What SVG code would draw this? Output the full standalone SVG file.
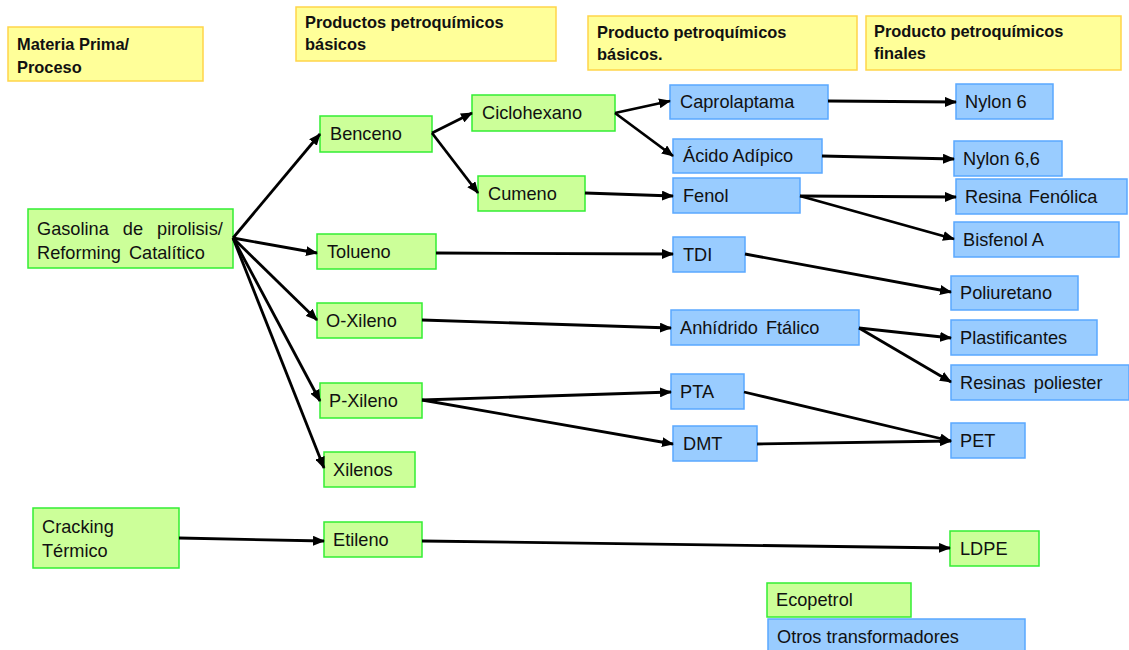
<svg xmlns="http://www.w3.org/2000/svg" width="1129" height="650" viewBox="0 0 1129 650">
<style>
.y{fill:#ffff99;stroke:#ffd54a;stroke-width:1.5}
.g{fill:#ccff99;stroke:#33ee33;stroke-width:1.5}
.b{fill:#99ccff;stroke:#5aa8ff;stroke-width:1.5}
.h{font-family:"Liberation Sans",Arial,sans-serif;font-weight:bold;font-size:16.4px;fill:#111}
.t{font-family:"Liberation Sans",Arial,sans-serif;font-size:18.2px;fill:#111}
.c line{stroke:#000;stroke-width:2.8;marker-end:url(#ah)}
</style>
<defs>
<marker id="ah" markerUnits="userSpaceOnUse" markerWidth="12" markerHeight="10" refX="11" refY="5" orient="auto">
<path d="M0,0 L12,5 L0,10 z" fill="#000"/>
</marker>
</defs>
<rect width="1129" height="650" fill="#fff"/>

<g id="h1"><rect class="y" x="8" y="27" width="195" height="54"/><text class="h" x="17" y="50">Materia Prima/</text><text class="h" x="17" y="73">Proceso</text></g>
<g id="h2"><rect class="y" x="296" y="7" width="260" height="54"/><text class="h" x="305" y="28">Productos petroquímicos</text><text class="h" x="305" y="50">básicos</text></g>
<g id="h3"><rect class="y" x="588" y="16" width="269" height="54"/><text class="h" x="597" y="38">Producto petroquímicos</text><text class="h" x="597" y="60">básicos.</text></g>
<g id="h4"><rect class="y" x="866" y="16" width="255" height="54"/><text class="h" x="874" y="37">Producto petroquímicos</text><text class="h" x="874" y="59">finales</text></g>

<g id="gasolina"><rect class="g" x="28" y="209" width="205" height="59"/><text class="t" x="37" y="235" word-spacing="9">Gasolina de pirolisis/</text><text class="t" x="37" y="259" word-spacing="3">Reforming Catalítico</text></g>
<g id="cracking"><rect class="g" x="33" y="508" width="146" height="60"/><text class="t" x="42" y="533">Cracking</text><text class="t" x="42" y="557">Térmico</text></g>

<g id="benceno"><rect class="g" x="320" y="116" width="112" height="36"/><text class="t" x="330" y="140">Benceno</text></g>
<g id="tolueno"><rect class="g" x="317" y="234" width="119" height="35"/><text class="t" x="327" y="258">Tolueno</text></g>
<g id="oxileno"><rect class="g" x="317" y="303" width="105" height="35"/><text class="t" x="326" y="327">O-Xileno</text></g>
<g id="pxileno"><rect class="g" x="320" y="383" width="102" height="35"/><text class="t" x="329" y="407">P-Xileno</text></g>
<g id="xilenos"><rect class="g" x="324" y="452" width="91" height="35"/><text class="t" x="333" y="476">Xilenos</text></g>
<g id="etileno"><rect class="g" x="324" y="522" width="98" height="35"/><text class="t" x="333" y="546">Etileno</text></g>

<g id="ciclohexano"><rect class="g" x="472" y="95" width="143" height="36"/><text class="t" x="482" y="119">Ciclohexano</text></g>
<g id="cumeno"><rect class="g" x="478" y="176" width="107" height="35"/><text class="t" x="488" y="200">Cumeno</text></g>

<g id="caprolaptama"><rect class="b" x="670" y="85" width="158" height="34"/><text class="t" x="680" y="108">Caprolaptama</text></g>
<g id="adipico"><rect class="b" x="673" y="139" width="149" height="34"/><text class="t" x="683" y="162">Ácido Adípico</text></g>
<g id="fenol"><rect class="b" x="673" y="178" width="127" height="35"/><text class="t" x="683" y="202">Fenol</text></g>
<g id="tdi"><rect class="b" x="673" y="237" width="72" height="35"/><text class="t" x="683" y="261">TDI</text></g>
<g id="anhidrido"><rect class="b" x="671" y="310" width="188" height="35"/><text class="t" x="680" y="334" word-spacing="3">Anhídrido Ftálico</text></g>
<g id="pta"><rect class="b" x="671" y="374" width="73" height="35"/><text class="t" x="680" y="398">PTA</text></g>
<g id="dmt"><rect class="b" x="673" y="426" width="84" height="35"/><text class="t" x="683" y="450">DMT</text></g>

<g id="nylon6"><rect class="b" x="956" y="84" width="97" height="35"/><text class="t" x="965" y="108">Nylon 6</text></g>
<g id="nylon66"><rect class="b" x="954" y="141" width="108" height="35"/><text class="t" x="963" y="165">Nylon 6,6</text></g>
<g id="resinafenolica"><rect class="b" x="956" y="179" width="171" height="35"/><text class="t" x="965" y="203" word-spacing="2">Resina Fenólica</text></g>
<g id="bisfenol"><rect class="b" x="954" y="222" width="165" height="35"/><text class="t" x="963" y="246">Bisfenol A</text></g>
<g id="poliuretano"><rect class="b" x="951" y="276" width="127" height="34"/><text class="t" x="960" y="299">Poliuretano</text></g>
<g id="plastificantes"><rect class="b" x="951" y="320" width="146" height="35"/><text class="t" x="960" y="344">Plastificantes</text></g>
<g id="resinaspoliester"><rect class="b" x="951" y="365" width="178" height="35"/><text class="t" x="960" y="389" word-spacing="3">Resinas poliester</text></g>
<g id="pet"><rect class="b" x="951" y="423" width="74" height="35"/><text class="t" x="960" y="447">PET</text></g>
<g id="ldpe"><rect class="g" x="950" y="531" width="89" height="35"/><text class="t" x="960" y="555">LDPE</text></g>

<g id="ecopetrol"><rect class="g" x="767" y="583" width="144" height="34"/><text class="t" x="776" y="606">Ecopetrol</text></g>
<g id="otros"><rect class="b" x="768" y="619" width="257" height="40"/><text class="t" x="777" y="643">Otros transformadores</text></g>

<g id="connectors" class="c">
<line x1="233" y1="238" x2="320" y2="134"/>
<line x1="233" y1="238" x2="317" y2="253"/>
<line x1="233" y1="238" x2="317" y2="320"/>
<line x1="233" y1="238" x2="320" y2="401"/>
<line x1="233" y1="238" x2="324" y2="468"/>
<line x1="432" y1="133" x2="472" y2="113"/>
<line x1="432" y1="133" x2="478" y2="193"/>
<line x1="615" y1="113" x2="670" y2="101"/>
<line x1="615" y1="113" x2="673" y2="156"/>
<line x1="585" y1="193" x2="673" y2="196"/>
<line x1="828" y1="101" x2="956" y2="102"/>
<line x1="822" y1="156" x2="954" y2="159"/>
<line x1="800" y1="196" x2="956" y2="197"/>
<line x1="800" y1="196" x2="954" y2="239"/>
<line x1="436" y1="253" x2="673" y2="254"/>
<line x1="745" y1="254" x2="951" y2="292"/>
<line x1="422" y1="320" x2="671" y2="328"/>
<line x1="859" y1="328" x2="951" y2="338"/>
<line x1="859" y1="328" x2="951" y2="382"/>
<line x1="422" y1="400" x2="671" y2="392"/>
<line x1="422" y1="400" x2="673" y2="444"/>
<line x1="744" y1="392" x2="951" y2="441"/>
<line x1="757" y1="444" x2="951" y2="441"/>
<line x1="179" y1="538" x2="324" y2="541"/>
<line x1="422" y1="541" x2="950" y2="548"/>
</g>
</svg>
